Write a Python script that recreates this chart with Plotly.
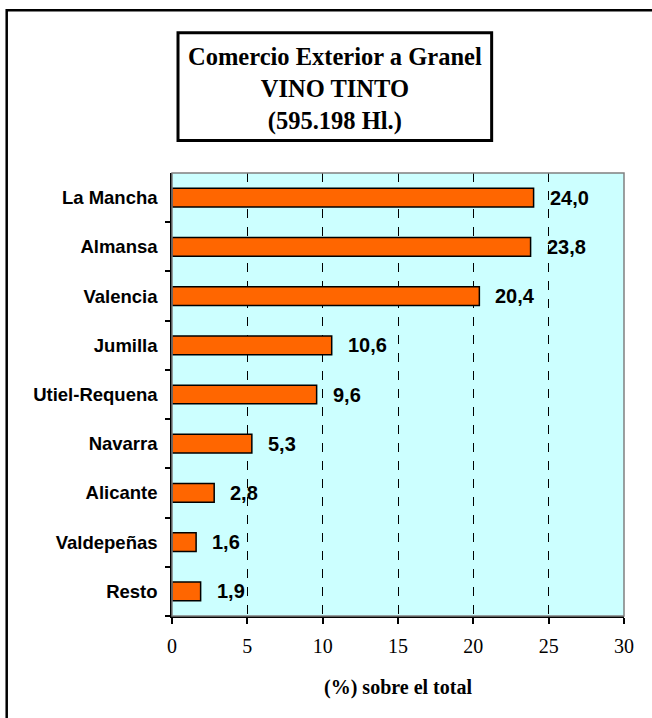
import plotly.graph_objects as go

# Bulk red wine exports by denomination (% of total)
categories = ["La Mancha", "Almansa", "Valencia", "Jumilla", "Utiel-Requena",
              "Navarra", "Alicante", "Valdepeñas", "Resto"]
shares = [24.0, 23.8, 20.4, 10.6, 9.6, 5.3, 2.8, 1.6, 1.9]
value_labels = ["24,0", "23,8", "20,4", "10,6", "9,6", "5,3", "2,8", "1,6", "1,9"]
x_ticks = [0, 5, 10, 15, 20, 25, 30]

title_lines = ["Comercio Exterior a Granel", "VINO TINTO", "(595.198 Hl.)"]
x_title = "(%) sobre el total"

W, H = 652, 718
L, R, T, B = 172, 27.5, 172.5, 102

fig = go.Figure()
fig.add_trace(go.Bar(
    y=categories,
    x=shares,
    orientation="h",
    width=0.38,
    marker=dict(color="#FF6600", line=dict(color="black", width=1.5)),
    hoverinfo="skip",
))

# value labels to the right of each bar
for cat, val, lab in zip(categories, shares, value_labels):
    fig.add_annotation(
        x=val, y=cat, text="<b>%s</b>" % lab, showarrow=False,
        xanchor="left", yanchor="middle", xshift=14,
        font=dict(family="Liberation Sans, Arial", size=20, color="black"),
    )

# title box
fig.add_shape(type="rect", xref="paper", yref="paper",
              x0=0.0133, x1=0.7072, y0=1.0733, y1=1.3168,
              line=dict(color="black", width=3), fillcolor="white")
fig.add_annotation(
    xref="paper", yref="paper", x=(0.0133 + 0.7072) / 2, y=(1.0733 + 1.3168) / 2,
    yshift=-2,
    text="<br>".join("<b>%s</b>" % s for s in title_lines),
    showarrow=False, xanchor="center", yanchor="middle",
    font=dict(family="Liberation Serif, Times New Roman", size=24.5, color="black"),
)

# outer chart frame
fig.add_shape(type="rect", xref="paper", yref="paper",
              x0=-0.3657, x1=1.08, y0=-0.26, y1=1.3675,
              line=dict(color="black", width=2.5), layer="below")

# plot-area border (top/right gray)
fig.add_shape(type="rect", xref="paper", yref="paper",
              x0=0, x1=1, y0=0, y1=1,
              line=dict(color="#808080", width=1.5), layer="above")

fig.update_layout(
    width=W, height=H,
    margin=dict(l=L, r=R, t=T, b=B),
    paper_bgcolor="white",
    plot_bgcolor="#CCFFFF",
    showlegend=False,
    bargap=0.6,
    xaxis=dict(
        range=[0, 30], tickvals=x_ticks, ticktext=[str(v) for v in x_ticks],
        showgrid=True, gridcolor="black", griddash="dash", gridwidth=1,
        zeroline=False, showline=True, linecolor="black", linewidth=1.5,
        ticks="outside", ticklen=6, tickcolor="black", tickwidth=1.5,
        tickfont=dict(family="Liberation Serif, Times New Roman", size=20, color="black"),
        ticklabelstandoff=5,
        title=dict(text="<b>%s</b>" % x_title, standoff=24,
                   font=dict(family="Liberation Serif, Times New Roman", size=20, color="black")),
        fixedrange=True,
    ),
    yaxis=dict(
        categoryorder="array", categoryarray=categories[::-1],
        showgrid=False, zeroline=False,
        showline=True, linecolor="black", linewidth=1.5,
        ticks="outside", ticklen=5, tickcolor="black", tickwidth=1.5,
        tickson="boundaries",
        tickfont=dict(family="Liberation Sans, Arial", size=18.5, color="black"),
        ticklabelstandoff=9,
        fixedrange=True,
    ),
)
fig.update_yaxes(ticktext=["<b>%s</b>" % c for c in categories], tickvals=categories)

fig.write_html("out.html")
